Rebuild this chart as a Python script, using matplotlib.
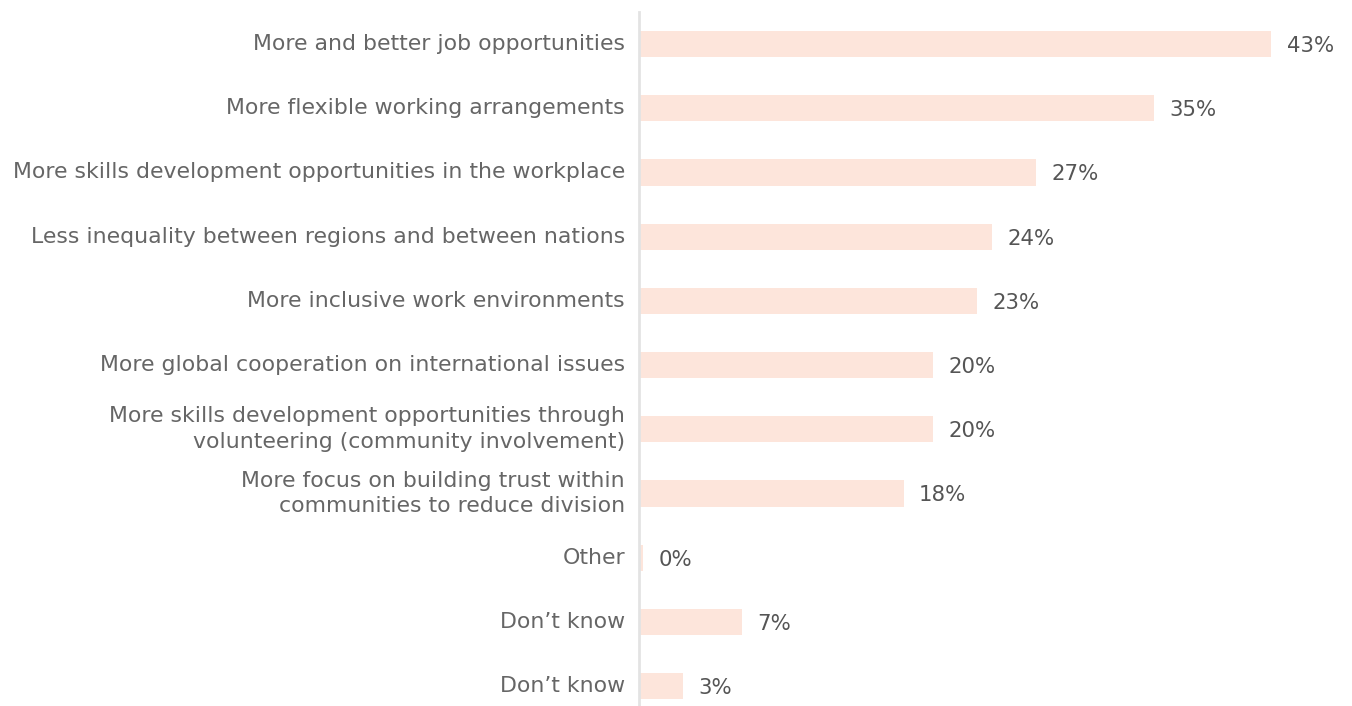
import matplotlib.pyplot as plt

# survey answers, top to bottom
categories = [
    'More and better job opportunities',
    'More flexible working arrangements',
    'More skills development opportunities in the workplace',
    'Less inequality between regions and between nations',
    'More inclusive work environments',
    'More global cooperation on international issues',
    'More skills development opportunities through\nvolunteering (community involvement)',
    'More focus on building trust within\ncommunities to reduce division',
    'Other',
    'Don\u2019t know',
    'Don\u2019t know',
]
shares = [43, 35, 27, 24, 23, 20, 20, 18, 0.3, 7, 3]

bar_color = '#fde5db'
text_color = '#666666'
font = 'DejaVu Sans'

fig = plt.figure(figsize=(13.52, 7.06), dpi=100)
ax = fig.add_axes([639 / 1352, 0, 713 / 1352, 694 / 706])

pos = list(range(len(categories)))
ax.barh(pos, shares, height=0.41, color=bar_color)

for y, v in zip(pos, shares):
    ax.text(v + 1.05, y + 0.03, f'{v:.0f}%', va='center', ha='left',
            fontsize=15.3, color='#555555', family=font)

ax.set_ylim(10.31, -0.5)
ax.set_xlim(0, 48.5)

ax.set_yticks(pos)
ax.set_yticklabels(categories, fontsize=15.8, color=text_color,
                   family=font, linespacing=1.35)
ax.tick_params(axis='y', length=0, pad=10)
for lbl in ax.get_yticklabels():
    lbl.set_verticalalignment('center')
ax.set_xticks([])

for s in ['top', 'right', 'bottom']:
    ax.spines[s].set_visible(False)
ax.spines['left'].set_color('#e3e3e3')
ax.spines['left'].set_linewidth(2)

fig.savefig('out.png', dpi=100)
